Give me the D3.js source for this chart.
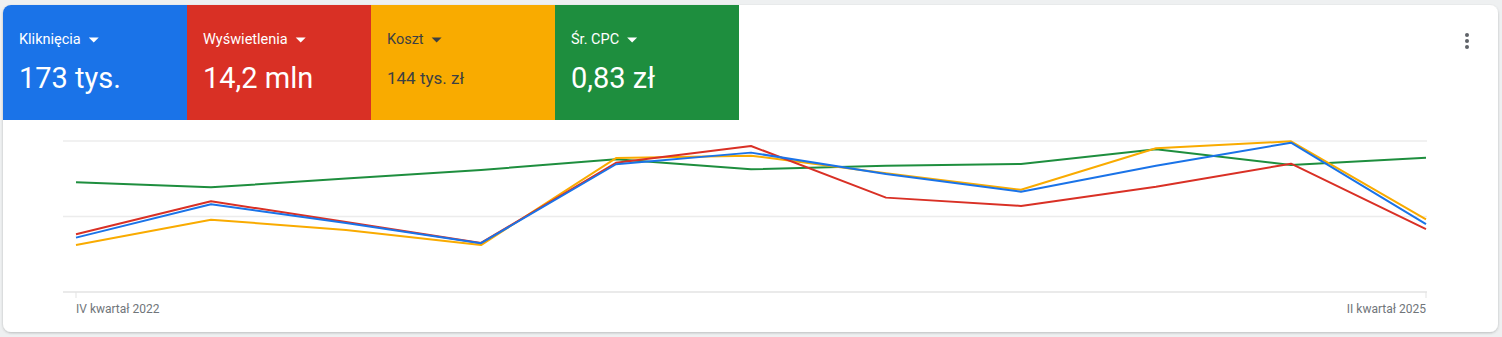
<!DOCTYPE html>
<html>
<head>
<meta charset="utf-8">
<script src="https://cdn.jsdelivr.net/npm/d3@7"></script>
<style>
  html, body { margin: 0; padding: 0; background: #eef0f1; }
  svg { display: block; font-family: Roboto, "Noto Sans", sans-serif; }
</style>
</head>
<body>
<div class="container"></div>
<script>
// quarters on the x axis (only first and last are labelled)
const quarters = ['IV kwartał 2022', 'I kwartał 2023', 'II kwartał 2023', 'III kwartał 2023', 'IV kwartał 2023',
  'I kwartał 2024', 'II kwartał 2024', 'III kwartał 2024', 'IV kwartał 2024', 'I kwartał 2025', 'II kwartał 2025']
const axisLabels = ['IV kwartał 2022', 'II kwartał 2025']

// metric tiles
const metricNames = ['Kliknięcia', 'Wyświetlenia', 'Koszt', 'Śr. CPC']
const metricValues = ['173 tys.', '14,2 mln', '144 tys. zł', '0,83 zł']
const metricColors = ['#1a73e8', '#d93025', '#f9ab00', '#1e8e3e']
const metricTextColors = ['#ffffff', '#ffffff', '#3c4043', '#ffffff']

// series, each scaled to its own 0-100 range like the chart does
const clicks = [36.0, 58.1, 45.7, 32.3, 84.6, 92.3, 78.1, 66.4, 83.6, 98.9, 45.0]
const impressions = [38.2, 60.1, 46.4, 32.5, 85.6, 96.7, 62.5, 57.0, 69.7, 85.0, 41.7]
const cost = [31.1, 47.9, 41.1, 31.1, 88.7, 90.3, 78.6, 67.7, 95.2, 99.8, 48.1]
const avgCpc = [72.6, 69.3, 75.2, 80.8, 87.9, 81.3, 83.6, 84.8, 94.5, 84.1, 88.9]

const gridValues = [0, 50, 100]

const W = 1502, H = 337
const card = { x: 3, y: 5, w: 1495, h: 327, r: 8 }
const tileW = 184, tileH = 115

const svg = d3.select('div.container').append('svg')
  .attr('width', W).attr('height', H)

// card with a soft shadow
const defs = svg.append('defs')
const filt = defs.append('filter').attr('id', 'shadow')
  .attr('x', '-5%').attr('y', '-10%').attr('width', '110%').attr('height', '120%')
filt.append('feDropShadow').attr('dx', 0).attr('dy', 1).attr('stdDeviation', 1)
  .attr('flood-color', '#3c4043').attr('flood-opacity', 0.3)
defs.append('clipPath').attr('id', 'cardclip')
  .append('rect').attr('x', card.x).attr('y', card.y).attr('width', card.w).attr('height', card.h).attr('rx', card.r)

svg.append('rect')
  .attr('x', card.x).attr('y', card.y).attr('width', card.w).attr('height', card.h).attr('rx', card.r)
  .attr('fill', '#ffffff').attr('filter', 'url(#shadow)')

// metric tiles
const tiles = svg.append('g').attr('clip-path', 'url(#cardclip)')
  .selectAll('g.tile').data(metricNames).join('g')
  .attr('class', 'tile')
  .attr('transform', (d, i) => `translate(${card.x + i * tileW},${card.y})`)

tiles.append('rect').attr('width', tileW).attr('height', tileH)
  .attr('fill', (d, i) => metricColors[i])

const labels = tiles.append('text')
  .attr('x', 16).attr('y', 39)
  .attr('font-size', 14.5).attr('font-weight', 400)
  .attr('fill', (d, i) => metricTextColors[i])
  .text(d => d)

// dropdown arrows next to the labels
labels.each(function (d, i) {
  const w = this.getComputedTextLength()
  d3.select(this.parentNode).append('path')
    .attr('d', `M${16 + w + 8},${32.5}l10,0l-5,5z`)
    .attr('fill', metricTextColors[i])
})

tiles.append('text')
  .attr('x', 16)
  .attr('y', (d, i) => i === 2 ? 79 : 83)
  .attr('font-size', (d, i) => i === 2 ? 17 : 29)
  .attr('fill', (d, i) => metricTextColors[i])
  .text((d, i) => metricValues[i])

// kebab menu
svg.append('g').selectAll('circle').data([0, 1, 2]).join('circle')
  .attr('cx', 1467).attr('cy', d => 35 + d * 6).attr('r', 2)
  .attr('fill', '#5f6368')

// scales
const x = d3.scalePoint().domain(quarters).range([76, 1426])
const y = d3.scaleLinear().domain([0, 100]).range([292, 141])

// gridlines
svg.append('g').selectAll('line').data(gridValues).join('line')
  .attr('x1', 63).attr('x2', 1427)
  .attr('y1', d => y(d)).attr('y2', d => y(d))
  .attr('stroke', d => d === 0 ? '#e3e3e3' : '#ececec').attr('stroke-width', 1.5)

// x axis: ticks and labels only at the ends
const xAxis = svg.append('g')
xAxis.selectAll('line').data(axisLabels).join('line')
  .attr('x1', d => x(d)).attr('x2', d => x(d))
  .attr('y1', y(0)).attr('y2', y(0) + 6)
  .attr('stroke', '#e3e3e3').attr('stroke-width', 1)
xAxis.selectAll('text').data(axisLabels).join('text')
  .attr('x', d => x(d)).attr('y', 313)
  .attr('text-anchor', (d, i) => i === 0 ? 'start' : 'end')
  .attr('font-size', 12).attr('fill', '#70757a')
  .text(d => d)

// lines
const line = d3.line().x((d, i) => x(quarters[i])).y(d => y(d))
const series = [
  { values: avgCpc, color: metricColors[3] },
  { values: cost, color: metricColors[2] },
  { values: impressions, color: metricColors[1] },
  { values: clicks, color: metricColors[0] }
]
svg.append('g').selectAll('path').data(series).join('path')
  .attr('d', d => line(d.values))
  .attr('fill', 'none')
  .attr('stroke', d => d.color)
  .attr('stroke-width', 2)
  .attr('stroke-linejoin', 'round')
</script>
</body>
</html>
